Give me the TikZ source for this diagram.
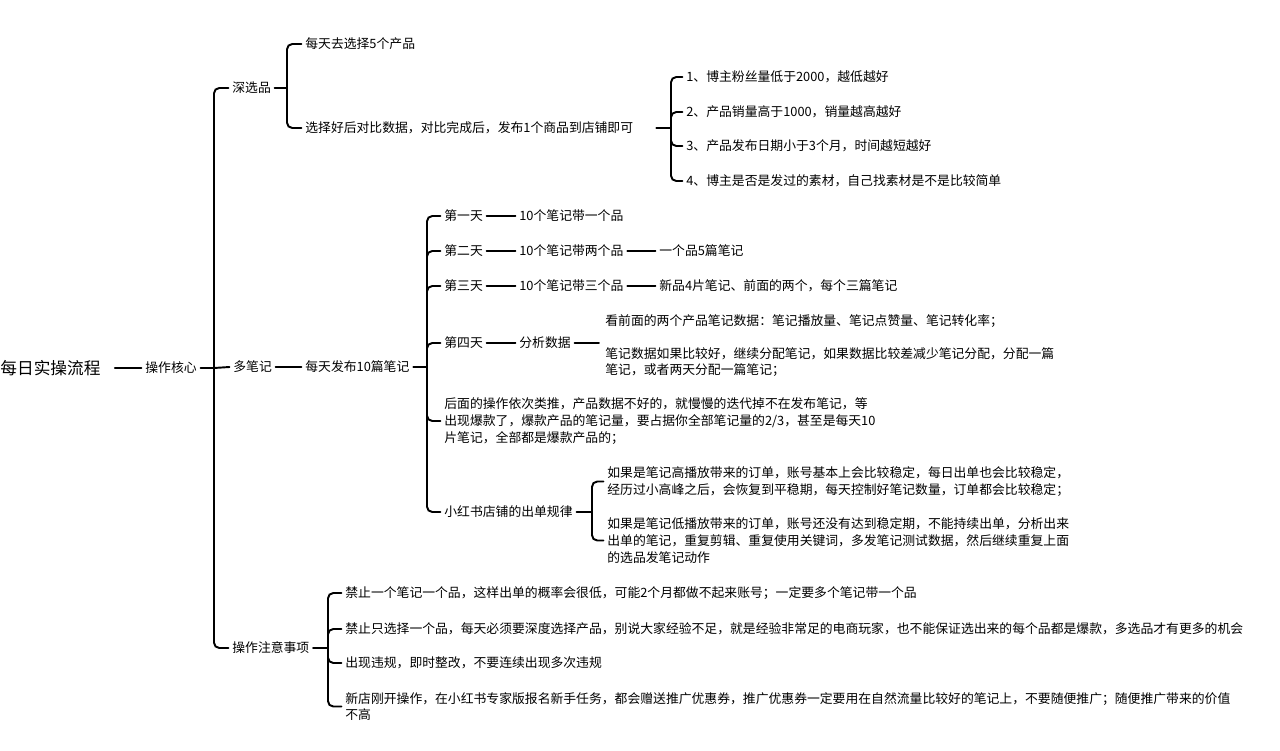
\documentclass[tikz,border=0pt]{standalone}
\usepackage{fontspec}
\newfontfamily\cjk{Noto Sans CJK SC}
\begin{document}
\begin{tikzpicture}[x=0.02cm,y=-0.02cm,
  t/.style={anchor=west, inner xsep=2pt, inner ysep=1pt, align=left,
            font=\cjk\fontsize{7.3}{9.5}\selectfont},
  rootnode/.style={t, inner xsep=8pt, font=\cjk\fontsize{9.5}{12}\selectfont},
  conn/.style={line width=1.1pt, rounded corners=3pt, line cap=round}]
\fill[white] (0,0) rectangle (1280,750);
\useasboundingbox (0,0) rectangle (1280,750);

% root and core
\node[rootnode] (root) at (-14,368) {每日实操流程};
\node[t] (core) at (141.5,368) {操作核心};
\coordinate (J0) at (214,368);

% level 1
\node[t] (A) at (228.5,88) {深选品};
\node[t] (B) at (229.5,367) {多笔记};
\node[t] (C) at (228.5,648) {操作注意事项};

% 深选品
\coordinate (J1) at (287,88);
\node[t] (A1) at (301.5,44) {每天去选择5个产品};
\node[t] (A2) at (301.5,128) {选择好后对比数据，对比完成后，发布1个商品到店铺即可};
\coordinate (J2) at (671,128);
\node[t] (G1) at (682.5,77) {1、博主粉丝量低于2000，越低越好};
\node[t] (G2) at (682.5,112) {2、产品销量高于1000，销量越高越好};
\node[t] (G3) at (682.5,146) {3、产品发布日期小于3个月，时间越短越好};
\node[t] (G4) at (682.5,181) {4、博主是否是发过的素材，自己找素材是不是比较简单};

% 多笔记
\node[t] (B1) at (301.5,367) {每天发布10篇笔记};
\coordinate (J3) at (427,367);
\node[t] (D1) at (440.5,216) {第一天};
\node[t] (D1b) at (515.5,216) {10个笔记带一个品};
\node[t] (D2) at (440.5,251) {第二天};
\node[t] (D2b) at (515.5,251) {10个笔记带两个品};
\node[t] (D2c) at (655.5,251) {一个品5篇笔记};
\node[t] (D3) at (440.5,286) {第三天};
\node[t] (D3b) at (515.5,286) {10个笔记带三个品};
\node[t] (D3c) at (655.5,286) {新品4片笔记、前面的两个，每个三篇笔记};
\node[t] (D4) at (440.5,343) {第四天};
\node[t] (D4b) at (515.5,343) {分析数据};
\coordinate (D4e) at (599,343);
\node[t] (D4c) at (601.5,321) {看前面的两个产品笔记数据：笔记播放量、笔记点赞量、笔记转化率；};
\node[t] (D4d) at (601.5,362) {笔记数据如果比较好，继续分配笔记，如果数据比较差减少笔记分配，分配一篇\\笔记，或者两天分配一篇笔记；};
\node[t] (D5) at (440.5,421) {后面的操作依次类推，产品数据不好的，就慢慢的迭代掉不在发布笔记，等\\出现爆款了，爆款产品的笔记量，要占据你全部笔记量的2/3，甚至是每天10\\片笔记，全部都是爆款产品的；};
\node[t] (D6) at (440.5,512) {小红书店铺的出单规律};
\coordinate (J4) at (592,512);
\node[t] (E1) at (603.5,481.5) {如果是笔记高播放带来的订单，账号基本上会比较稳定，每日出单也会比较稳定，\\经历过小高峰之后，会恢复到平稳期，每天控制好笔记数量，订单都会比较稳定；};
\node[t] (E2) at (603.5,540.5) {如果是笔记低播放带来的订单，账号还没有达到稳定期，不能持续出单，分析出来\\出单的笔记，重复剪辑、重复使用关键词，多发笔记测试数据，然后继续重复上面\\的选品发笔记动作};

% 操作注意事项
\coordinate (J5) at (328,648);
\node[t] (F1) at (341.5,593) {禁止一个笔记一个品，这样出单的概率会很低，可能2个月都做不起来账号；一定要多个笔记带一个品};
\node[t] (F2) at (341.5,629) {禁止只选择一个品，每天必须要深度选择产品，别说大家经验不足，就是经验非常足的电商玩家，也不能保证选出来的每个品都是爆款，多选品才有更多的机会};
\node[t] (F3) at (341.5,663) {出现违规，即时整改，不要连续出现多次违规};
\node[t] (F4) at (341.5,706.5) {新店刚开操作，在小红书专家版报名新手任务，都会赠送推广优惠券，推广优惠券一定要用在自然流量比较好的笔记上，不要随便推广；随便推广带来的价值\\不高};

% connectors
\draw[conn] (root.east) -- (core.west);
\draw[conn] (core.east) -- (J0);
\draw[conn] (J0) |- (A.west);
\draw[conn] (J0) -- (B.west);
\draw[conn] (J0) |- (C.west);

\draw[conn] (A.east) -- (J1);
\draw[conn] (J1) |- (A1.west);
\draw[conn] (J1) |- (A2.west);
\draw[conn, shorten <=11pt] (A2.east) -- (J2);
\foreach \n in {G1,G2,G3,G4} \draw[conn] (J2) |- (\n.west);

\draw[conn] (B.east) -- (B1.west);
\draw[conn] (B1.east) -- (J3);
\foreach \n in {D1,D2,D3,D4,D5,D6} \draw[conn] (J3) |- (\n.west);
\draw[conn] (D1.east) -- (D1b.west);
\draw[conn] (D2.east) -- (D2b.west);
\draw[conn] (D2b.east) -- (D2c.west);
\draw[conn] (D3.east) -- (D3b.west);
\draw[conn] (D3b.east) -- (D3c.west);
\draw[conn] (D4.east) -- (D4b.west);
\draw[conn] (D4b.east) -- (D4e);
\draw[conn] (D6.east) -- (J4);
\draw[conn] (J4) |- (E1.west);
\draw[conn] (J4) |- (E2.west);

\draw[conn] (C.east) -- (J5);
\foreach \n in {F1,F2,F3,F4} \draw[conn] (J5) |- (\n.west);
\end{tikzpicture}
\end{document}
